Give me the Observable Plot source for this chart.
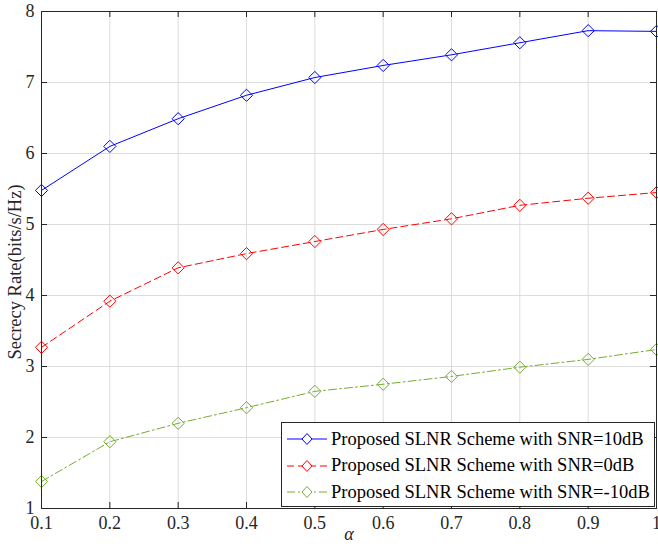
<!DOCTYPE html>
<html><head><meta charset="utf-8">
<script src="https://cdn.jsdelivr.net/npm/d3@7"></script>
<script src="https://cdn.jsdelivr.net/npm/@observablehq/plot@0.6"></script>
<style>
body{margin:0;background:#fff;}
#wrap{position:relative;width:658px;height:548px;font-family:"Liberation Serif","DejaVu Serif",serif;}
#legend{position:absolute;left:281px;top:422px;width:374px;height:85px;border:1px solid #262626;background:#fff;box-sizing:border-box;}
.row{position:absolute;left:0;height:26px;display:flex;align-items:center;font-size:18.5px;color:#000;white-space:nowrap;font-family:"Liberation Serif","DejaVu Serif",serif;}
.row svg{margin-left:5px;margin-right:4px;}
</style></head>
<body><div id="wrap"></div>
<script>
const alpha = [0.1,0.2,0.3,0.4,0.5,0.6,0.7,0.8,0.9,1.0];
const snr10 = [5.48,6.10,6.49,6.82,7.07,7.24,7.39,7.56,7.73,7.72];
const snr0 = [3.27,3.92,4.39,4.59,4.76,4.93,5.08,5.27,5.37,5.45];
const snrm10 = [1.38,1.94,2.20,2.42,2.65,2.75,2.86,2.99,3.10,3.24];
const seriesNames = ["Proposed SLNR Scheme with SNR=10dB","Proposed SLNR Scheme with SNR=0dB","Proposed SLNR Scheme with SNR=-10dB"];
const seriesColors = ["#0000ff","#ff0000","#77ac30"];
const seriesDash = [null,"7,4","8,3,2,3"];
const xTicks = [0.1,0.2,0.3,0.4,0.5,0.6,0.7,0.8,0.9,1];
const xTickLabels = ["0.1","0.2","0.3","0.4","0.5","0.6","0.7","0.8","0.9","1"];
const yTicks = [1,2,3,4,5,6,7,8];
const yTickLabels = ["1","2","3","4","5","6","7","8"];

const all = [snr10,snr0,snrm10];
const rows = [];
all.forEach((vals,si)=>alpha.forEach((a,i)=>rows.push({x:a,y:vals[i],s:si})));

const W=658,H=548,mt=11,mb=40,ml=41,mr=2;
const ph = H-mt-mb, pw = W-ml-mr;
const FONT = "'Liberation Serif','DejaVu Serif',serif";
const marks = [
  Plot.gridX(xTicks,{stroke:"#dcdcdc",strokeOpacity:1}),
  Plot.gridY(yTicks,{stroke:"#dcdcdc",strokeOpacity:1}),
  Plot.tickX(xTicks,{x:d=>d,insetTop:ph-6,stroke:"#262626"}),
  Plot.tickX(xTicks,{x:d=>d,insetBottom:ph-6,stroke:"#262626"}),
  Plot.tickY(yTicks,{y:d=>d,insetLeft:pw-6,stroke:"#262626"}),
  Plot.tickY(yTicks,{y:d=>d,insetRight:pw-6,stroke:"#262626"}),
];
[0,1,2].forEach(si=>{
  const d = rows.filter(r=>r.s===si);
  marks.push(Plot.line(d,{x:"x",y:"y",stroke:seriesColors[si],strokeWidth:1,strokeDasharray:seriesDash[si]}));
  marks.push(Plot.dot(d,{x:"x",y:"y",symbol:"diamond2",r:5.5,stroke:seriesColors[si],strokeWidth:1,fill:"none"}));
});
marks.push(Plot.frame({stroke:"#262626",strokeWidth:1}));
marks.push(Plot.axisX(xTicks,{tickSize:0,tickPadding:8,tickFormat:(d,i)=>xTickLabels[i],fontSize:18,label:null,fill:"#262626"}));
marks.push(Plot.axisY(yTicks,{tickSize:0,tickPadding:7,tickFormat:(d,i)=>yTickLabels[i],fontSize:18,label:null,fill:"#262626"}));
marks.push(Plot.text(["α"],{frameAnchor:"bottom",dy:31,fontSize:18,fontStyle:"italic",fill:"#262626"}));
marks.push(Plot.text(["Secrecy Rate(bits/s/Hz)"],{frameAnchor:"left",textAnchor:"middle",dx:-26,dy:12,rotate:-90,fontSize:18.5,fill:"#262626"}));

const chart = Plot.plot({
  width:W,height:H,marginTop:mt,marginBottom:mb,marginLeft:ml,marginRight:mr,
  style:{fontFamily:FONT,color:"#262626",background:"#fff"},
  x:{domain:[0.1,1]},
  y:{domain:[1,8]},
  marks
});
const wrap = document.getElementById("wrap");
wrap.appendChild(chart);

const leg = document.createElement("div");
leg.id="legend";
seriesNames.forEach((n,si)=>{
  const r=document.createElement("div");
  r.className="row";
  r.style.top=(3+si*26.5)+"px";
  const dash = seriesDash[si]?`stroke-dasharray="${seriesDash[si]}"`:"";
  r.innerHTML=`<svg width="40" height="14"><line x1="0" y1="7" x2="40" y2="7" stroke="${seriesColors[si]}" ${dash}/><path d="M20,1.5 L25,7 L20,12.5 L15,7Z" fill="white" stroke="${seriesColors[si]}"/></svg><span>${n}</span>`;
  leg.appendChild(r);
});
wrap.appendChild(leg);
</script></body></html>
